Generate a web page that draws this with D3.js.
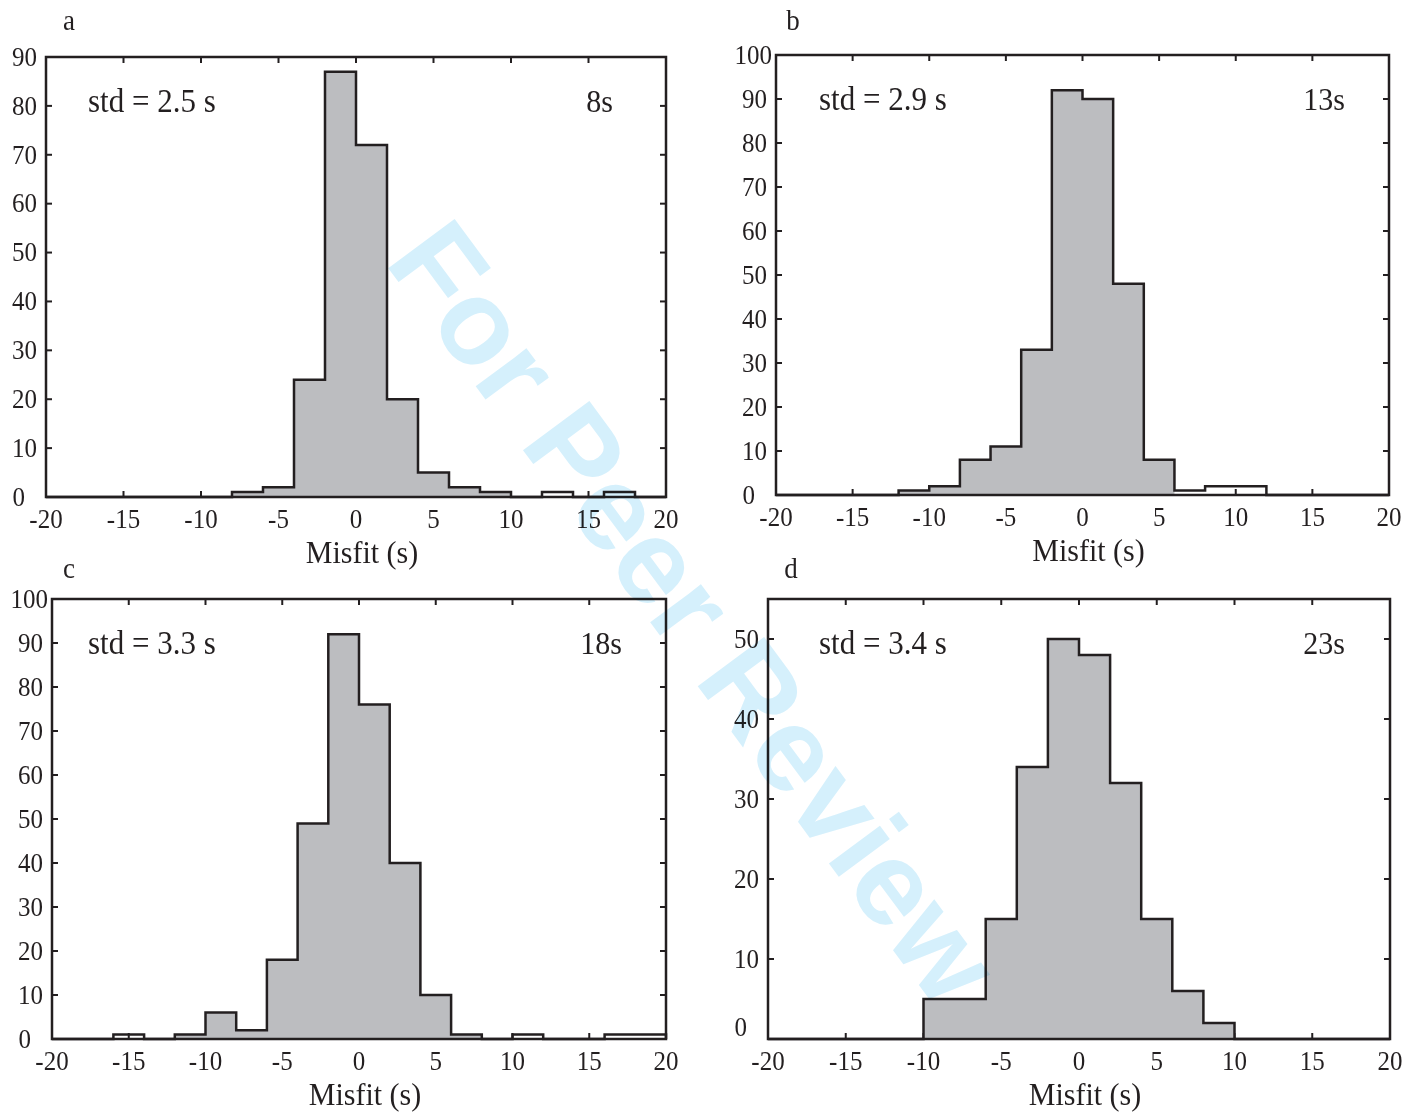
<!DOCTYPE html>
<html>
<head>
<meta charset="utf-8">
<script src="https://cdn.jsdelivr.net/npm/d3@7"></script>
<style>
  html, body { margin: 0; padding: 0; background: #fff; }
  svg { display: block; }
  text { font-family: "Liberation Serif", "Times New Roman", serif; fill: #231f20; }
  .wm { font-family: "Liberation Sans", Arial, sans-serif; font-weight: bold; fill: #d5f0fc; mix-blend-mode: multiply; }
</style>
</head>
<body>
<script>
// Histogram bin edges (2 s wide) shared by all panels
const binEdges = d3.range(-20, 21, 2);
const xTicks = [-20, -15, -10, -5, 0, 5, 10, 15, 20];

// Counts per bin, one array per period
const countsA = [0,0,0,0,0,0,1,2,24,87,72,20,5,2,1,0,1,0,1,0];
const countsB = [0,0,0,0,1,2,8,11,33,92,90,48,8,1,2,2,0,0,0,0];
const countsC = [0,0,1,0,1,6,2,18,49,92,76,40,10,1,0,1,0,0,1,1];
const countsD = [0,0,0,0,0,5,5,15,34,50,48,32,15,6,2,0,0,0,0,0];

// Shaded range of misfit (s) in each panel
const shadeA = [-8, 10];
const shadeB = [-12, 6];
const shadeC = [-12, 8];
const shadeD = [-10, 10];

// Y axis extents and tick values
const yMaxes = [90, 100, 100, 55];
const yTicksA = d3.range(0, 91, 10);
const yTicksB = d3.range(0, 101, 10);
const yTicksC = d3.range(0, 101, 10);
const yTicksD = d3.range(0, 51, 10);

const panelLetters = ["a", "b", "c", "d"];
const stdLabels = ["std = 2.5 s", "std = 2.9 s", "std = 3.3 s", "std = 3.4 s"];
const periodLabels = ["8s", "13s", "18s", "23s"];
const xTitle = "Misfit (s)";

const W = 1427, H = 1114;
const svg = d3.select("body").append("svg").attr("width", W).attr("height", H);
svg.append("rect").attr("width", W).attr("height", H).attr("fill", "#fff");

// Pixel frames of the four axes boxes
const frames = [
  { left: 46,  right: 666,  top: 57,  bottom: 497,  stdDx: 42, perDx: 53, letterX: 69,  letterY: 20,  zeroDy: 0 },
  { left: 776, right: 1389, top: 55,  bottom: 495,  stdDx: 43, perDx: 44, letterX: 793, letterY: 20,  zeroDy: 0 },
  { left: 52,  right: 666,  top: 599, bottom: 1039, stdDx: 36, perDx: 44, letterX: 69,  letterY: 568, zeroDy: 0 },
  { left: 768, right: 1390, top: 599, bottom: 1039, stdDx: 51, perDx: 45, letterX: 791, letterY: 568, zeroDy: -12 }
];

const panels = [
  { counts: countsA, shade: shadeA, yTicks: yTicksA },
  { counts: countsB, shade: shadeB, yTicks: yTicksB },
  { counts: countsC, shade: shadeC, yTicks: yTicksC },
  { counts: countsD, shade: shadeD, yTicks: yTicksD }
];

const ink = "#231f20";
const barFill = "#bcbdc0";
const tickLen = 6;
const stretch = 1.06; // glyphs are drawn slightly tall

function label(g, x, y, str, size, anchor) {
  return g.append("text")
    .attr("transform", `translate(${x},${y}) scale(1,${stretch})`)
    .attr("text-anchor", anchor || "start")
    .attr("dominant-baseline", "central")
    .attr("font-size", size)
    .text(str);
}

panels.forEach((p, i) => {
  const f = frames[i];
  const x = d3.scaleLinear().domain([-20, 20]).range([f.left, f.right]);
  const y = d3.scaleLinear().domain([0, yMaxes[i]]).range([f.bottom, f.top]);
  const g = svg.append("g");

  // inward ticks on all four sides (drawn first so shaded bars sit over them)
  const tickG = g.append("g").attr("stroke", ink).attr("stroke-width", 2);
  xTicks.slice(1, -1).forEach(t => {
    tickG.append("line").attr("x1", x(t)).attr("x2", x(t)).attr("y1", f.bottom).attr("y2", f.bottom - tickLen);
    tickG.append("line").attr("x1", x(t)).attr("x2", x(t)).attr("y1", f.top).attr("y2", f.top + tickLen);
  });
  p.yTicks.filter(t => t > 0 && t < yMaxes[i]).forEach(t => {
    tickG.append("line").attr("x1", f.left).attr("x2", f.left + tickLen).attr("y1", y(t)).attr("y2", y(t));
    tickG.append("line").attr("x1", f.right).attr("x2", f.right - tickLen).attr("y1", y(t)).attr("y2", y(t));
  });

  const bins = p.counts.map((c, k) => ({ x0: binEdges[k], x1: binEdges[k + 1], c }));

  // shaded area over the central bins
  const shaded = bins.filter(b => b.x0 >= p.shade[0] && b.x1 <= p.shade[1]);
  const areaPts = shaded.map(b => [b.x0, b.c]);
  areaPts.push([shaded[shaded.length - 1].x1, shaded[shaded.length - 1].c]);
  const area = d3.area().x(d => x(d[0])).y0(y(0)).y1(d => y(d[1])).curve(d3.curveStepAfter);
  g.append("path").datum(areaPts).attr("d", area).attr("fill", barFill).attr("stroke", "none");

  // step outline of the whole histogram
  const linePts = [[-20, 0]].concat(bins.map(b => [b.x0, b.c]));
  linePts.push([20, bins[bins.length - 1].c], [20, 0]);
  const line = d3.line().x(d => x(d[0])).y(d => y(d[1])).curve(d3.curveStepAfter);
  g.append("path").datum(linePts).attr("d", line).attr("fill", "none")
    .attr("stroke", ink).attr("stroke-width", 2.5).attr("stroke-linejoin", "miter");

  // axes box
  g.append("rect").attr("x", f.left).attr("y", f.top)
    .attr("width", f.right - f.left).attr("height", f.bottom - f.top)
    .attr("fill", "none").attr("stroke", ink).attr("stroke-width", 2.5);

  // tick labels
  xTicks.forEach(t => label(g, x(t), f.bottom + 22, t, 25, "middle"));
  p.yTicks.forEach(t => {
    const dx = t === 0 ? -12 : (t >= 100 ? 5 : 0);
    label(g, f.left - 9 + dx, y(t) + (t === 0 ? f.zeroDy : 0), t, 25, "end");
  });

  // axis title
  label(g, (f.left + f.right) / 2 + 6, f.bottom + 55, xTitle, 30, "middle");

  // annotations
  label(g, f.left + f.stdDx, f.top + 44, stdLabels[i], 31, "start");
  label(g, f.right - f.perDx, f.top + 44, periodLabels[i], 30, "end");
  label(g, f.letterX, f.letterY, panelLetters[i], 27, "middle");
});

// diagonal review watermark
svg.append("text").attr("class", "wm")
  .attr("transform", "translate(695,612) rotate(53.5)")
  .attr("text-anchor", "middle").attr("dominant-baseline", "central")
  .attr("font-size", 120).text("For Peer Review");
</script>
</body>
</html>
